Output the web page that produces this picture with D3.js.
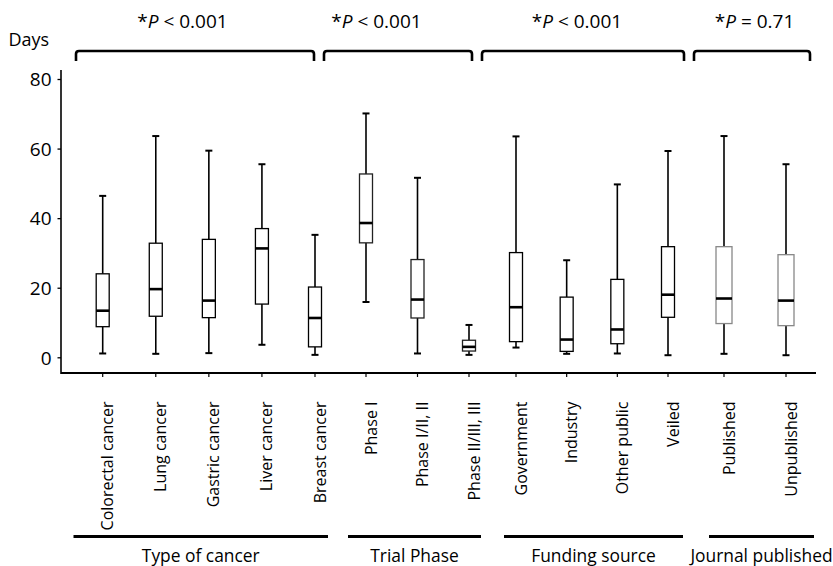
<!DOCTYPE html>
<html><head><meta charset="utf-8">
<script src="https://cdn.jsdelivr.net/npm/d3@7/dist/d3.min.js"></script>
<style>body{margin:0;background:#fff}svg{display:block}text{font-family:"Open Sans",sans-serif;fill:#000}</style>
</head><body><svg id="c" width="833" height="566"></svg>
<script>
// ---- data ----
const groups = ["Type of cancer", "Trial Phase", "Funding source", "Journal published"];
const pOps = ["<", "<", "<", "="];
const pValues = ["0.001", "0.001", "0.001", "0.71"];
const categories = ["Colorectal cancer","Lung cancer","Gastric cancer","Liver cancer","Breast cancer",
  "Phase I","Phase I/II, II","Phase II/III, III",
  "Government","Industry","Other public","Veiled",
  "Published","Unpublished"];
const categoryGroup = [0,0,0,0,0,1,1,1,2,2,2,2,3,3];
const whiskerLow  = [1.1, 1.0, 1.2, 3.6, 0.7, 15.9, 1.1, 0.7, 2.8, 1.0, 1.1, 0.6, 1.0, 0.6];
const q1          = [8.8, 11.8, 11.4, 15.3, 3.0, 32.9, 11.3, 1.8, 4.5, 1.7, 3.9, 11.5, 9.7, 9.1];
const median      = [13.4, 19.6, 16.3, 31.3, 11.3, 38.6, 16.6, 3.0, 14.4, 5.1, 8.0, 18.0, 16.9, 16.3];
const q3          = [24.0, 32.8, 33.9, 37.0, 20.2, 52.7, 28.1, 4.9, 30.1, 17.3, 22.4, 31.8, 31.8, 29.5];
const whiskerHigh = [46.4, 63.6, 59.4, 55.5, 35.2, 70.1, 51.6, 9.3, 63.5, 27.9, 49.7, 59.3, 63.6, 55.5];
const yTicks = [0, 20, 40, 60, 80];
const yLabel = "Days";

// ---- layout ----
const svg = d3.select("#c");
const y = d3.scaleLinear().domain([0, 80]).range([357.3, 79]);
const groupBoxRange = [[102.7, 315], [366, 469], [516, 668], [724, 786]];
const bracketRange = [[76, 314], [324, 472], [482, 684], [694, 810]];
const pShift = [-12.5, -21.5, -6, 2.5];
const bottomRange = [[73.5, 328], [348, 481], [504, 683], [709, 814]];
const boxWidth = [13, 13, 13, 16];
const boxStroke = ["#000", "#222", "#000", "#888"];
const groupScales = groups.map((g, gi) =>
  d3.scalePoint().domain(categories.filter((c, i) => categoryGroup[i] === gi)).range(groupBoxRange[gi]));
const x = c => { const i = categories.indexOf(c); return groupScales[categoryGroup[i]](c); };

const axisY = 373, axisX = 61;

// y axis
const ya = svg.append("g").attr("transform", `translate(${axisX},0)`)
  .call(d3.axisLeft(y).tickValues(yTicks).tickSize(3.5).tickPadding(6));
ya.select(".domain").remove();
ya.selectAll("line").attr("stroke", "#000").attr("stroke-width", 1.3);
ya.selectAll("text").style("font-size", "19px").style("font-family", "'Open Sans',sans-serif").attr("dy", "0.36em");
svg.append("line").attr("x1", axisX).attr("x2", axisX).attr("y1", 70).attr("y2", axisY + 1)
  .attr("stroke", "#000").attr("stroke-width", 1.6);
svg.append("text").attr("x", 8.5).attr("y", 46).style("font-size", "18px").text(yLabel);

// x axis
svg.append("line").attr("x1", axisX).attr("x2", 816).attr("y1", axisY).attr("y2", axisY)
  .attr("stroke", "#000").attr("stroke-width", 2.2);
svg.append("g").selectAll("line").data(categories).join("line")
  .attr("x1", d => x(d)).attr("x2", d => x(d)).attr("y1", axisY).attr("y2", axisY + 4)
  .attr("stroke", "#000").attr("stroke-width", 1.2);

// boxes
const bg = svg.append("g").selectAll("g").data(categories).join("g");
bg.append("line").attr("x1", d => x(d)).attr("x2", d => x(d))
  .attr("y1", (d, i) => y(whiskerHigh[i])).attr("y2", (d, i) => y(q3[i]))
  .attr("stroke", "#000").attr("stroke-width", 1.6);
bg.append("line").attr("x1", d => x(d)).attr("x2", d => x(d))
  .attr("y1", (d, i) => y(q1[i])).attr("y2", (d, i) => y(whiskerLow[i]))
  .attr("stroke", "#000").attr("stroke-width", 1.6);
[whiskerHigh, whiskerLow].forEach(arr => {
  bg.append("line").attr("x1", d => x(d) - 3.5).attr("x2", d => x(d) + 3.5)
    .attr("y1", (d, i) => y(arr[i])).attr("y2", (d, i) => y(arr[i]))
    .attr("stroke", "#000").attr("stroke-width", 2);
});
bg.append("rect")
  .attr("x", (d, i) => x(d) - boxWidth[categoryGroup[i]] / 2)
  .attr("width", (d, i) => boxWidth[categoryGroup[i]])
  .attr("y", (d, i) => y(q3[i])).attr("height", (d, i) => y(q1[i]) - y(q3[i]))
  .attr("fill", "#fff").attr("stroke", (d, i) => boxStroke[categoryGroup[i]]).attr("stroke-width", 1.3);
bg.append("line")
  .attr("x1", (d, i) => x(d) - boxWidth[categoryGroup[i]] / 2)
  .attr("x2", (d, i) => x(d) + boxWidth[categoryGroup[i]] / 2)
  .attr("y1", (d, i) => y(median[i])).attr("y2", (d, i) => y(median[i]))
  .attr("stroke", "#000").attr("stroke-width", 2.6);

// category labels
svg.append("g").selectAll("text").data(categories).join("text")
  .attr("transform", d => `translate(${x(d) + 10.5},401.5) rotate(-90)`)
  .attr("text-anchor", "end").style("font-size", "16px").text(d => d);

// top brackets + p-values
const br = svg.append("g").selectAll("g").data(groups).join("g");
br.append("path").attr("fill", "none").attr("stroke", "#000").attr("stroke-width", 2.6)
  .attr("d", (d, i) => {
    const [a, b] = bracketRange[i];
    return `M${a},61 L${a},54 Q${a},51 ${a + 3},51 L${b - 3},51 Q${b},51 ${b},54 L${b},61`;
  });
const pt = br.append("text").attr("x", (d, i) => (bracketRange[i][0] + bracketRange[i][1]) / 2 + pShift[i])
  .attr("y", 28).attr("text-anchor", "middle").style("font-size", "19px");
pt.append("tspan").text("*");
pt.append("tspan").style("font-style", "italic").text("P");
pt.append("tspan").text((d, i) => ` ${pOps[i]} ${pValues[i]}`);

// bottom group lines + labels
const bl = svg.append("g").selectAll("g").data(groups).join("g");
bl.append("line").attr("x1", (d, i) => bottomRange[i][0]).attr("x2", (d, i) => bottomRange[i][1])
  .attr("y1", 536.5).attr("y2", 536.5).attr("stroke", "#000").attr("stroke-width", 3);
bl.append("text").attr("x", (d, i) => (bottomRange[i][0] + bottomRange[i][1]) / 2)
  .attr("y", 561.5).attr("text-anchor", "middle").style("font-size", "17.4px").text(d => d);
</script></body></html>
